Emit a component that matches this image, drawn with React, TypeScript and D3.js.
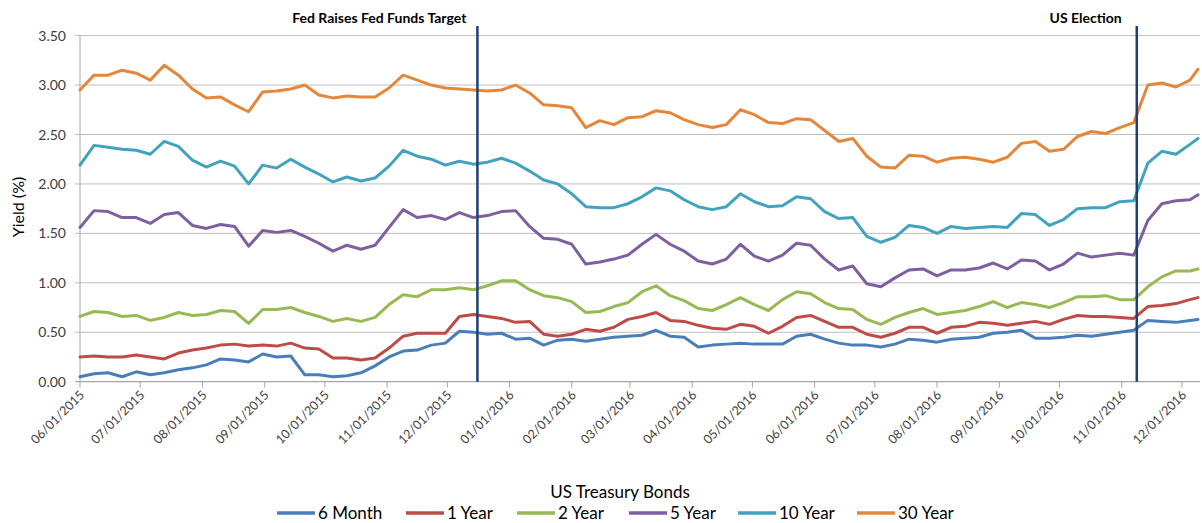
import React from "react";
import * as d3 from "d3";

// weekly observations (Mondays) plus the last Friday shown
const dates: Date[] = d3
  .range(80)
  .map(i => d3.timeDay.offset(new Date(2015, 5, 1), 7 * i))
  .concat([new Date(2016, 11, 9)]);

const sixMonth = [
  0.05, 0.08, 0.09, 0.05, 0.1, 0.07, 0.09, 0.12, 0.14, 0.17,
  0.23, 0.22, 0.2, 0.28, 0.25, 0.26, 0.07, 0.07, 0.05, 0.06,
  0.09, 0.16, 0.25, 0.31, 0.32, 0.37, 0.39, 0.51, 0.5, 0.48,
  0.49, 0.43, 0.44, 0.37, 0.42, 0.43, 0.41, 0.43, 0.45, 0.46,
  0.47, 0.52, 0.46, 0.45, 0.35, 0.37, 0.38, 0.39, 0.38, 0.38,
  0.38, 0.46, 0.48, 0.43, 0.39, 0.37, 0.37, 0.35, 0.38, 0.43,
  0.42, 0.4, 0.43, 0.44, 0.45, 0.49, 0.5, 0.52, 0.44, 0.44,
  0.45, 0.47, 0.46, 0.48, 0.5, 0.52, 0.62, 0.61, 0.6, 0.62,
  0.63,
];
const oneYear = [
  0.25, 0.26, 0.25, 0.25, 0.27, 0.25, 0.23, 0.29, 0.32, 0.34,
  0.37, 0.38, 0.36, 0.37, 0.36, 0.39, 0.34, 0.33, 0.24, 0.24,
  0.22, 0.24, 0.34, 0.46, 0.49, 0.49, 0.49, 0.66, 0.68, 0.66,
  0.64, 0.6, 0.61, 0.48, 0.46, 0.48, 0.53, 0.51, 0.55, 0.63,
  0.66, 0.7, 0.62, 0.61, 0.57, 0.54, 0.53, 0.58, 0.56, 0.49,
  0.56, 0.65, 0.67, 0.61, 0.55, 0.55, 0.48, 0.45, 0.49, 0.55,
  0.55, 0.49, 0.55, 0.56, 0.6, 0.59, 0.57, 0.59, 0.61, 0.58,
  0.63, 0.67, 0.66, 0.66, 0.65, 0.64, 0.76, 0.77, 0.79, 0.83,
  0.85,
];
const twoYear = [
  0.66, 0.71, 0.7, 0.66, 0.67, 0.62, 0.65, 0.7, 0.67, 0.68,
  0.72, 0.71, 0.59, 0.73, 0.73, 0.75, 0.7, 0.66, 0.61, 0.64,
  0.61, 0.65, 0.78, 0.88, 0.86, 0.93, 0.93, 0.95, 0.93, 0.97,
  1.02, 1.02, 0.93, 0.87, 0.85, 0.81, 0.7, 0.71, 0.76, 0.8,
  0.91, 0.97, 0.87, 0.82, 0.74, 0.72, 0.78, 0.85, 0.78, 0.72,
  0.83, 0.91, 0.89, 0.8, 0.74, 0.73, 0.63, 0.58, 0.65, 0.7,
  0.74, 0.68, 0.7, 0.72, 0.76, 0.81, 0.75, 0.8, 0.78, 0.75,
  0.8, 0.86, 0.86, 0.87, 0.83, 0.83, 0.96, 1.06, 1.12, 1.12,
  1.14,
];
const fiveYear = [
  1.56, 1.73, 1.72, 1.66, 1.66, 1.6, 1.69, 1.71, 1.58, 1.55,
  1.59, 1.57, 1.37, 1.53, 1.51, 1.53, 1.47, 1.4, 1.32, 1.38,
  1.34, 1.38, 1.56, 1.74, 1.66, 1.68, 1.64, 1.71, 1.66, 1.68,
  1.72, 1.73, 1.57, 1.45, 1.44, 1.39, 1.19, 1.21, 1.24, 1.28,
  1.39, 1.49, 1.39, 1.32, 1.22, 1.19, 1.24, 1.39, 1.27, 1.22,
  1.28, 1.4, 1.38, 1.24, 1.13, 1.17, 0.99, 0.96, 1.05, 1.13,
  1.14, 1.07, 1.13, 1.13, 1.15, 1.2, 1.14, 1.23, 1.22, 1.13,
  1.19, 1.3, 1.26, 1.28, 1.3, 1.28, 1.63, 1.8, 1.83, 1.84,
  1.89,
];
const tenYear = [
  2.19, 2.39, 2.37, 2.35, 2.34, 2.3, 2.43, 2.38, 2.24, 2.17,
  2.23, 2.18, 2.0, 2.19, 2.16, 2.25, 2.17, 2.1, 2.02, 2.07,
  2.03, 2.06, 2.18, 2.34, 2.28, 2.25, 2.19, 2.23, 2.2, 2.22,
  2.26, 2.21, 2.13, 2.04, 2.0, 1.9, 1.77, 1.76, 1.76, 1.8,
  1.87, 1.96, 1.93, 1.84, 1.77, 1.74, 1.77, 1.9, 1.82, 1.77,
  1.78, 1.87, 1.85, 1.72, 1.65, 1.66, 1.47, 1.41, 1.46, 1.58,
  1.56, 1.5, 1.57, 1.55, 1.56, 1.57, 1.56, 1.7, 1.69, 1.58,
  1.64, 1.75, 1.76, 1.76, 1.82, 1.83, 2.21, 2.33, 2.3, 2.4,
  2.46,
];
const thirtyYear = [
  2.95, 3.1, 3.1, 3.15, 3.12, 3.05, 3.2, 3.1, 2.96, 2.87,
  2.88, 2.8, 2.73, 2.93, 2.94, 2.96, 3.0, 2.9, 2.87, 2.89,
  2.88, 2.88, 2.97, 3.1, 3.05, 3.0, 2.97, 2.96, 2.95, 2.94,
  2.95, 3.0, 2.92, 2.8, 2.79, 2.77, 2.57, 2.64, 2.6, 2.67,
  2.68, 2.74, 2.72, 2.65, 2.6, 2.57, 2.6, 2.75, 2.7, 2.62,
  2.61, 2.66, 2.65, 2.54, 2.43, 2.46, 2.28, 2.17, 2.16, 2.29,
  2.28, 2.22, 2.26, 2.27, 2.25, 2.22, 2.27, 2.41, 2.43, 2.33,
  2.35, 2.48, 2.53, 2.51, 2.57, 2.62, 3.0, 3.02, 2.98, 3.05,
  3.16,
];

const seriesNames = ["6 Month", "1 Year", "2 Year", "5 Year", "10 Year", "30 Year"];
const seriesValues = [sixMonth, oneYear, twoYear, fiveYear, tenYear, thirtyYear];
const seriesColors = ["#4A7EBB", "#BE4B48", "#98B954", "#7D60A0", "#42A3BE", "#E5873A"];

const yTicks = [0, 0.5, 1, 1.5, 2, 2.5, 3, 3.5];

const events = [
  { date: new Date(2015, 11, 16), label: "Fed Raises Fed Funds Target", gap: 11 },
  { date: new Date(2016, 10, 8, 12), label: "US Election", gap: 15 },
];

const W = 1202;
const H = 523;
const FONT = "Lato, 'Open Sans', sans-serif";
const legendStarts = [277, 406, 517, 629, 738, 857];

const App = () => {
  const x = d3
    .scaleTime()
    .domain([new Date(2015, 5, 1), new Date(2016, 11, 10)])
    .range([80, 1200]);
  const y = d3.scaleLinear().domain([0, 3.5]).range([381.7, 35.6]);

  const months = d3.timeMonth.range(new Date(2015, 5, 1), new Date(2016, 11, 2));
  const fmtDate = d3.timeFormat("%m/%d/%Y");
  const fmtY = d3.format(".2f");

  const line = d3
    .line<number>()
    .x((_, i) => x(dates[i]))
    .y(d => y(d));

  return (
    <svg
      width={W}
      height={H}
      style={{ position: "absolute", left: 0, top: 0, background: "#fff" }}
      fontFamily={FONT}
    >
      {/* gridlines + y labels */}
      {yTicks.map(t => (
        <g key={t}>
          {t > 0 && (
            <line x1={75} x2={1200} y1={y(t)} y2={y(t)} stroke="#BFBFBF" strokeWidth={1} />
          )}
          <text x={66} y={y(t)} dy="0.36em" textAnchor="end" fontSize={14} fill="#404040">
            {fmtY(t)}
          </text>
        </g>
      ))}

      {/* axes */}
      <line x1={80} x2={80} y1={y(3.5)} y2={y(0)} stroke="#A6A6A6" strokeWidth={1} />
      <line x1={75} x2={1200} y1={y(0)} y2={y(0)} stroke="#A6A6A6" strokeWidth={1.2} />
      {months.map(m => (
        <g key={+m} transform={`translate(${x(m)},0)`}>
          <line y1={y(0)} y2={y(0) + 6} stroke="#A6A6A6" />
          <text
            transform={`translate(2,${y(0) + 11}) rotate(-45)`}
            textAnchor="end"
            dy="0.35em"
            fontSize={12.5}
            fill="#404040"
          >
            {fmtDate(m)}
          </text>
        </g>
      ))}

      {/* series */}
      {seriesValues.map((vals, i) => (
        <path
          key={seriesNames[i]}
          d={line(vals) || ""}
          fill="none"
          stroke={seriesColors[i]}
          strokeWidth={3}
          strokeLinejoin="round"
          strokeLinecap="round"
        />
      ))}

      {/* event markers */}
      {events.map(e => (
        <g key={e.label}>
          <line x1={x(e.date)} x2={x(e.date)} y1={26} y2={y(0)} stroke="#1F3F75" strokeWidth={2.5} />
          <text
            x={x(e.date) - e.gap}
            y={23}
            textAnchor="end"
            fontSize={14}
            fontWeight="bold"
            fill="#000"
          >
            {e.label}
          </text>
        </g>
      ))}

      {/* axis titles */}
      <text transform="translate(24,207) rotate(-90)" textAnchor="middle" fontSize={16} fill="#000">
        Yield (%)
      </text>
      <text x={620} y={498} textAnchor="middle" fontSize={17} fill="#000">
        US Treasury Bonds
      </text>

      {/* legend */}
      {seriesNames.map((name, i) => (
        <g key={name} transform={`translate(${legendStarts[i]},513)`}>
          <line x1={0} x2={38} y1={0} y2={0} stroke={seriesColors[i]} strokeWidth={3.5} />
          <text x={41} y={0} dy="0.36em" fontSize={17} fill="#000">
            {name}
          </text>
        </g>
      ))}
    </svg>
  );
};

export default App;
